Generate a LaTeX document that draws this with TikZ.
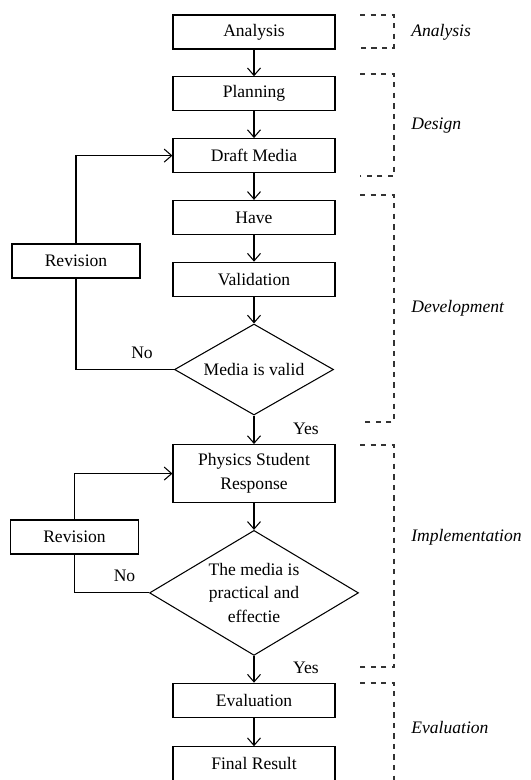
\documentclass[tikz,border=0pt]{standalone}
\usepackage{fontspec}
\setmainfont{Liberation Serif}
\usetikzlibrary{shapes.geometric, arrows.meta, positioning}

\begin{document}
\begin{tikzpicture}[
    >={Straight Barb[length=1.5mm,width=2.6mm]},
    node distance=0.535cm,
    font=\fontsize{10}{13.5}\selectfont,
    box/.style={draw, line width=0.6pt, minimum width=3.24cm, minimum height=0.68cm,
                align=center, inner sep=2pt},
    revbox/.style={box, minimum width=2.56cm},
    decision/.style={draw, diamond, line width=0.6pt, align=center, inner sep=0pt},
    arr/.style={->, line width=0.6pt},
    link/.style={line width=0.6pt},
    phase/.style={dashed, line width=0.6pt, black!80},
    phaselabel/.style={anchor=west, inner sep=0pt, font=\itshape},
]
\useasboundingbox (0,0) rectangle (10.6,-15.6);

% === Main column ===
\node[box] (ana) at (5.08,-0.64) {Analysis};
\node[box, below=of ana] (plan) {Planning};
\node[box, below=of plan] (draft) {Draft Media};
\node[box, below=of draft] (have) {Have};
\node[box, below=of have] (valid) {Validation};
\node[decision, below=of valid, minimum width=3.18cm, minimum height=1.82cm, aspect=1.75] (mvalid) {Media is valid};
\node[box, below=0.57cm of mvalid, minimum height=1.16cm] (resp) {Physics Student\\Response};
\node[decision, below=of resp, minimum width=4.18cm, minimum height=2.5cm, aspect=1.67] (pract) {The media is\\practical and\\effectie};
\node[box, below=of pract] (eval) {Evaluation};
\node[box, below=0.57cm of eval] (final) {Final Result};

\draw[arr] (ana) -- (plan);
\draw[arr] (plan) -- (draft);
\draw[arr] (draft) -- (have);
\draw[arr] (have) -- (valid);
\draw[arr] (valid) -- (mvalid);
\draw[arr] (mvalid) -- (resp);
\draw[arr] (resp) -- (pract);
\draw[arr] (pract) -- (eval);
\draw[arr] (eval) -- (final);

% === Revision loops ===
\node[revbox] (rev1) at (1.52,-5.22) {Revision};
\node[revbox] (rev2) at (1.49,-10.74) {Revision};

\draw[link] (mvalid.west) -| (rev1.south);
\draw[arr] (rev1.north) |- (draft.west);
\draw[link] (pract.west) -| (rev2.south);
\draw[arr] (rev2.north) |- (resp.west);

\node[above left=0.1cm and 0.3cm of mvalid.west] (no1) {No};
\node[above left=0.1cm and 0.15cm of pract.west] (no2) {No};
\node[below right=0.03cm and 0.66cm of mvalid.south] (yes1) {Yes};
\node[below right=0cm and 0.66cm of pract.south] (yes2) {Yes};

% === Phases ===
\draw[phase] (7.2,-0.3) -- (7.88,-0.3) -- (7.88,-0.96) -- (7.2,-0.96);
\draw[phase] (7.2,-1.48) -- (7.88,-1.48) -- (7.88,-3.52) -- (7.2,-3.52);
\draw[phase] (7.2,-3.9) -- (7.88,-3.9) -- (7.88,-8.44) -- (7.2,-8.44);
\draw[phase] (7.2,-8.9) -- (7.88,-8.9) -- (7.88,-13.34) -- (7.2,-13.34);
\draw[phase] (7.2,-13.66) -- (7.88,-13.66) -- (7.88,-16.2);

\node[phaselabel] (pana) at (8.22,-0.64) {Analysis};
\node[phaselabel] (pdes) at (8.22,-2.52) {Design};
\node[phaselabel] (pdev) at (8.22,-6.16) {Development};
\node[phaselabel] (pimp) at (8.22,-10.74) {Implementation};
\node[phaselabel] (peva) at (8.22,-14.54) {Evaluation};

\end{tikzpicture}
\end{document}
